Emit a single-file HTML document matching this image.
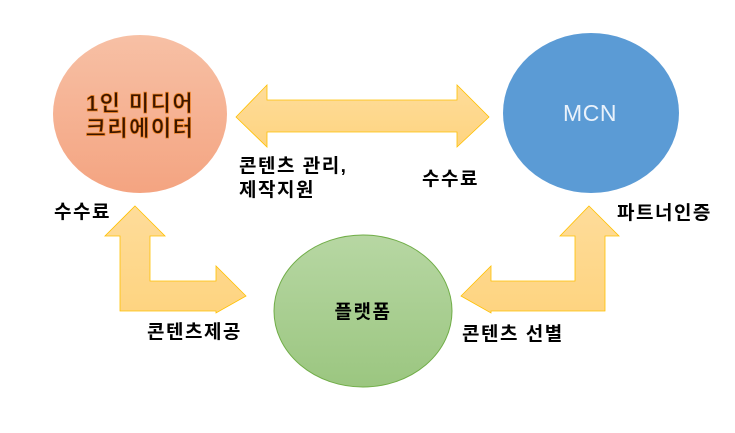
<!DOCTYPE html>
<html><head><meta charset="utf-8"><style>
body{margin:0;background:#fff;width:735px;height:428px;overflow:hidden}
text{font-family:"Liberation Sans","Noto Sans CJK KR",sans-serif}
</style></head><body>
<svg width="735" height="428" viewBox="0 0 735 428" xmlns="http://www.w3.org/2000/svg">
<defs>
<linearGradient id="o" x1="0" y1="0" x2="0" y2="1"><stop offset="0" stop-color="#f7c0a5"/><stop offset="1" stop-color="#f4a481"/></linearGradient>
<linearGradient id="g" x1="0" y1="0" x2="0" y2="1"><stop offset="0" stop-color="#b7d7a3"/><stop offset="1" stop-color="#9bc680"/></linearGradient>
<linearGradient id="y" x1="0" y1="0" x2="0" y2="1"><stop offset="0" stop-color="#fedc9a"/><stop offset="1" stop-color="#fed480"/></linearGradient>
</defs>
<ellipse cx="140" cy="114" rx="87" ry="79" fill="url(#o)"/>
<ellipse cx="591" cy="113" rx="88" ry="80" fill="#5b9bd5"/>
<ellipse cx="363" cy="311" rx="89" ry="76" fill="url(#g)" stroke="#70ad47" stroke-width="1"/>
<polygon points="236,117 267,85 267,100 457,100 457,85 489,117 457,147 457,132 267,132 267,147" fill="url(#y)" stroke="#ffc000" stroke-width="0.8"/>
<polygon points="135,206 165,236 150,236 150,281 216,281 216,266 246,296 216,313 216,311 120,311 120,236 105,236" fill="url(#y)" stroke="#ffc000" stroke-width="0.8"/>
<polygon points="589,206 619,236 605,236 605,311 491,311 491,313 461,296 491,266 491,281 575,281 575,236 560,236" fill="url(#y)" stroke="#ffc000" stroke-width="0.8"/>
<g font-size="22" font-weight="bold" fill="#3a1600" stroke="#f08020" stroke-width="0.7" letter-spacing="1.5" text-anchor="middle">
<text x="140" y="111">1인 미디어</text>
<text x="140" y="136">크리에이터</text>
</g>
<text x="590" y="121" font-size="23" fill="#eaf2fb" text-anchor="middle" letter-spacing="0.5">MCN</text>
<g font-size="19" font-weight="bold" fill="#000" letter-spacing="1.5">
<text x="363" y="318" text-anchor="middle">플랫폼</text>
<text x="239" y="172">콘텐츠 관리,</text>
<text x="239" y="196">제작지원</text>
<text x="54" y="218">수수료</text>
<text x="422" y="185">수수료</text>
<text x="617" y="219">파트너인증</text>
<text x="147" y="338">콘텐츠제공</text>
<text x="462" y="340">콘텐츠 선별</text>
</g>
</svg>
</body></html>
